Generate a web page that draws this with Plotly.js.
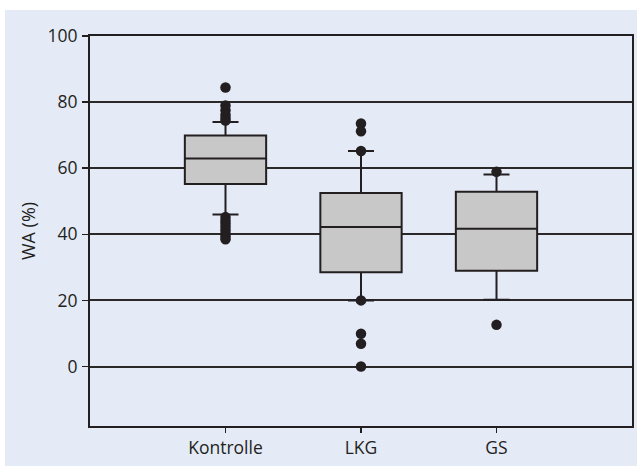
<!DOCTYPE html>
<html>
<head>
<meta charset="utf-8">
<script src="https://cdn.plot.ly/plotly-3.0.1.min.js"></script>
<style>
  html, body { margin: 0; padding: 0; background: #ffffff; }
  #chart { position: absolute; left: 5px; top: 10px; width: 632px; height: 456px; }
</style>
</head>
<body>
<div id="chart"></div>
<script>
// Categories
var categories = ['Kontrolle', 'LKG', 'GS'];

// Box statistics (WA in %)
var q1Values     = [55.2, 28.5, 29.0];
var medianValues = [62.9, 42.2, 41.7];
var q3Values     = [69.9, 52.5, 52.9];
var lowerFences  = [46.0, 20.0, 20.2];
var upperFences  = [74.0, 65.2, 58.1];

// Outliers / extreme points per group
var kontrolleOutliers = [84.4, 79.0, 77.5, 76.2, 75.2, 74.4, 45.2, 44.2, 43.2, 42.2, 41.2, 40.2, 39.3, 38.5];
var lkgOutliers       = [73.5, 71.2, 65.2, 20.0, 9.9, 6.9, 0.0];
var gsOutliers        = [58.9, 12.6];

// Y axis ticks
var yTickValues = [0, 20, 40, 60, 80, 100];

var ink = '#231f20';
var fontFamily = '"Open Sans", "Noto Sans", sans-serif';

var outlierX = [], outlierY = [];
[kontrolleOutliers, lkgOutliers, gsOutliers].forEach(function (arr, i) {
  arr.forEach(function (v) { outlierX.push(categories[i]); outlierY.push(v); });
});

var boxTrace = {
  type: 'box',
  x: categories,
  q1: q1Values,
  median: medianValues,
  q3: q3Values,
  lowerfence: lowerFences,
  upperfence: upperFences,
  boxpoints: false,
  width: 0.6,
  whiskerwidth: 0.32,
  fillcolor: '#c8c8c8',
  line: { color: ink, width: 2 },
  hoverinfo: 'none',
  showlegend: false
};

var outlierTrace = {
  type: 'scatter',
  mode: 'markers',
  x: outlierX,
  y: outlierY,
  marker: { color: ink, size: 10.5 },
  hoverinfo: 'none',
  showlegend: false
};

var layout = {
  width: 632,
  height: 456,
  margin: { l: 85, r: 5, t: 26, b: 40 },
  paper_bgcolor: '#e4eaf6',
  plot_bgcolor: '#e4eaf6',
  font: { family: fontFamily, size: 17.5, color: ink },
  showlegend: false,
  xaxis: {
    type: 'category',
    range: [-1, 3],
    showgrid: false,
    zeroline: false,
    showline: true,
    mirror: true,
    linecolor: ink,
    linewidth: 2,
    ticks: 'outside',
    ticklen: 5,
    tickwidth: 1.5,
    tickcolor: ink,
    tickfont: { family: fontFamily, size: 17.5, color: ink }
  },
  yaxis: {
    range: [-18, 100],
    tickvals: yTickValues,
    ticktext: yTickValues.map(String),
    showgrid: true,
    gridcolor: '#2a2829',
    gridwidth: 2,
    zeroline: false,
    showline: true,
    mirror: true,
    linecolor: ink,
    linewidth: 2,
    ticks: 'outside',
    ticklen: 6,
    tickwidth: 1.5,
    tickcolor: ink,
    ticklabelstandoff: 1,
    tickfont: { family: fontFamily, size: 17.5, color: ink },
    title: { text: 'WA (%)', font: { family: fontFamily, size: 18, color: ink }, standoff: 7 }
  }
};

Plotly.newPlot('chart', [boxTrace, outlierTrace], layout, { staticPlot: true, displayModeBar: false });
</script>
</body>
</html>
